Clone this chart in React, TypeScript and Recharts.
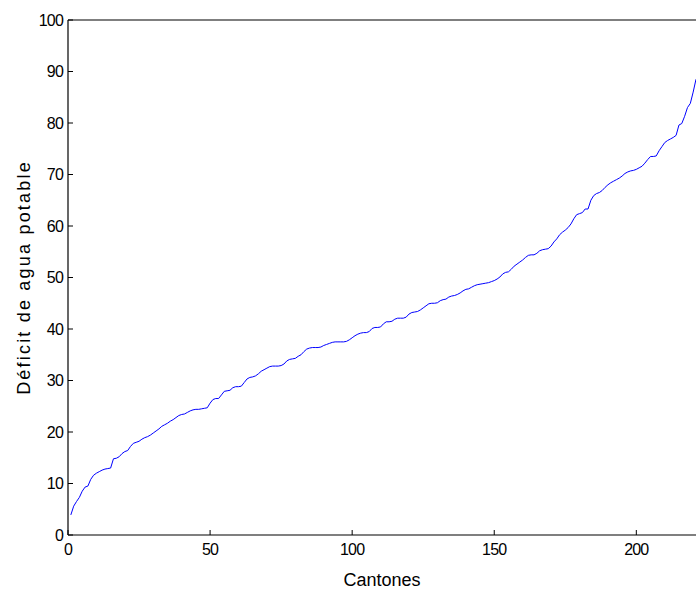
import { CartesianGrid, Label, Line, LineChart, XAxis, YAxis } from "recharts";

// déficit de agua potable, cantones ordenados (1..221)
const deficit = [
  3.9, 5.6, 6.5, 7.3, 8.5, 9.3, 9.5, 10.8, 11.6, 12.0,
  12.3, 12.6, 12.8, 12.9, 13.0, 14.8, 14.9, 15.2, 15.8, 16.2,
  16.4, 17.2, 17.8, 18.0, 18.2, 18.6, 18.9, 19.1, 19.4, 19.8,
  20.2, 20.6, 21.1, 21.4, 21.7, 22.1, 22.4, 22.8, 23.2, 23.4,
  23.5, 23.8, 24.1, 24.3, 24.4, 24.4, 24.5, 24.6, 24.7, 25.6,
  26.3, 26.5, 26.5, 27.2, 27.9, 28.0, 28.1, 28.6, 28.8, 28.8,
  28.9, 29.6, 30.3, 30.6, 30.7, 30.9, 31.3, 31.8, 32.1, 32.4,
  32.7, 32.8, 32.8, 32.8, 32.9, 33.2, 33.8, 34.1, 34.2, 34.3,
  34.7, 35.0, 35.6, 36.1, 36.3, 36.4, 36.4, 36.4, 36.5, 36.8,
  37.0, 37.2, 37.4, 37.5, 37.5, 37.5, 37.5, 37.6, 37.9, 38.3,
  38.7, 39.0, 39.2, 39.3, 39.3, 39.5, 40.1, 40.3, 40.3, 40.4,
  41.0, 41.4, 41.4, 41.5, 41.9, 42.1, 42.1, 42.1, 42.3, 42.9,
  43.2, 43.3, 43.4, 43.7, 44.1, 44.5, 44.9, 45.0, 45.0, 45.1,
  45.5, 45.7, 45.8, 46.2, 46.4, 46.5, 46.7, 47.0, 47.4, 47.7,
  47.8, 48.1, 48.4, 48.6, 48.7, 48.8, 48.9, 49.0, 49.2, 49.4,
  49.7, 50.1, 50.7, 51.0, 51.1, 51.6, 52.2, 52.6, 53.0, 53.4,
  53.9, 54.3, 54.4, 54.4, 54.7, 55.2, 55.4, 55.5, 55.6, 56.1,
  56.9, 57.5, 58.3, 58.8, 59.2, 59.7, 60.4, 61.4, 62.2, 62.4,
  62.6, 63.3, 63.3, 65.0, 65.9, 66.3, 66.5, 66.9, 67.5, 68.0,
  68.4, 68.7, 69.0, 69.3, 69.7, 70.2, 70.5, 70.7, 70.8, 71.0,
  71.3, 71.6, 72.2, 72.9, 73.5, 73.5, 73.6, 74.6, 75.4, 76.2,
  76.6, 76.9, 77.2, 77.6, 79.6, 79.9, 81.3, 83.0, 83.8, 86.0,
  88.5,
];

const xTicks = [0, 50, 100, 150, 200];
const yTicks = [0, 10, 20, 30, 40, 50, 60, 70, 80, 90, 100];

const rows = deficit.map((v, i) => ({ canton: i + 1, deficit: v }));

const font = "'Liberation Sans', Arial, sans-serif";
const tickStyle = { fontSize: 16, fill: "#000", fontFamily: font, letterSpacing: -0.8 };

export default function App() {
  return (
    <div style={{ position: "absolute", left: 0, top: 0, width: 696, height: 590, background: "#fff" }}>
      <LineChart width={696} height={590} data={rows} margin={{ top: 0, right: 0, left: 0, bottom: 0 }}>
        <CartesianGrid stroke="none" />
        <XAxis
          xAxisId="top"
          orientation="top"
          dataKey="canton"
          type="number"
          domain={[0, 221]}
          ticks={xTicks}
          height={20}
          tick={false}
          tickSize={-5}
          axisLine={{ stroke: "#000", strokeWidth: 1.2 }}
          tickLine={{ stroke: "#000" }}
        />
        <XAxis
          dataKey="canton"
          type="number"
          domain={[0, 221]}
          ticks={xTicks}
          height={55}
          tickSize={-5}
          tickMargin={14}
          tick={tickStyle}
          axisLine={{ stroke: "#000", strokeWidth: 1.2 }}
          tickLine={{ stroke: "#000" }}
        >
          <Label
            value="Cantones"
            position="insideBottom"
            offset={4}
            style={{ fontSize: 18, fill: "#000", fontFamily: font }}
          />
        </XAxis>
        <YAxis
          type="number"
          domain={[0, 100]}
          ticks={yTicks}
          width={68}
          tickSize={-5}
          tickMargin={10}
          tick={tickStyle}
          axisLine={{ stroke: "#000", strokeWidth: 1.2 }}
          tickLine={{ stroke: "#000" }}
        >
          <Label
            content={({ viewBox }: any) => {
              const cy = viewBox.y + viewBox.height / 2;
              return (
                <text
                  x={30}
                  y={cy}
                  transform={`rotate(-90 30 ${cy})`}
                  textAnchor="middle"
                  style={{ fontSize: 18, fill: "#000", fontFamily: font, letterSpacing: 2.2 }}
                >
                  Déficit de agua potable
                </text>
              );
            }}
          />
        </YAxis>
        <Line
          type="linear"
          dataKey="deficit"
          stroke="#0000ff"
          strokeWidth={1}
          dot={false}
          activeDot={false}
          isAnimationActive={false}
        />
      </LineChart>
    </div>
  );
}
